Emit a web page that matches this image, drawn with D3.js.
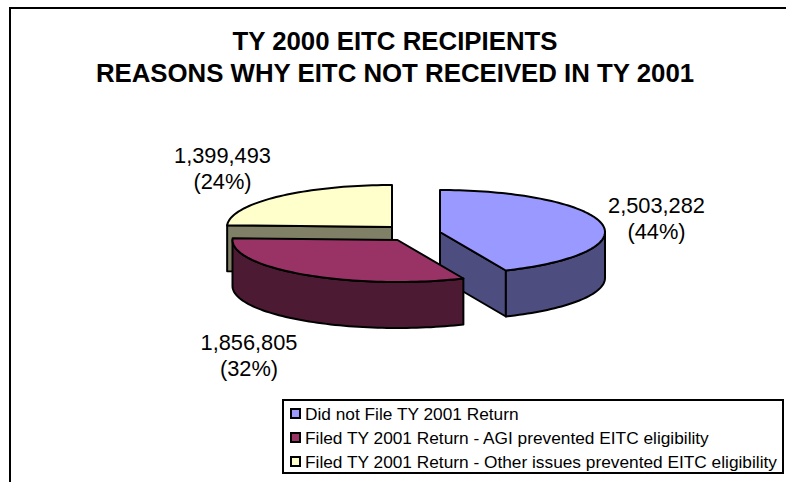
<!DOCTYPE html>
<html>
<head>
<meta charset="utf-8">
<script src="https://cdn.jsdelivr.net/npm/d3@7"></script>
<style>
  html, body { margin: 0; padding: 0; background: #fff; }
  svg { display: block; }
  text { font-family: "Liberation Sans", Arial, sans-serif; fill: #000; }
</style>
</head>
<body>
<svg id="chart" width="786" height="482"></svg>
<script>
const categories = [
  "Did not File TY 2001 Return",
  "Filed TY 2001 Return - AGI prevented EITC eligibility",
  "Filed TY 2001 Return - Other issues prevented EITC eligibility"
];
const values = [2503282, 1856805, 1399493];
const valueLabels = ["2,503,282", "1,856,805", "1,399,493"];
const pctLabels = ["(44%)", "(32%)", "(24%)"];
const titleLines = ["TY 2000 EITC RECIPIENTS", "REASONS WHY EITC NOT RECEIVED IN TY 2001"];
const topColors = ["#9999ff", "#993366", "#ffffcc"];
const sideColors = ["#4d4d80", "#4d1a33", "#808066"];

// exploded slice centres
const centers = [[440, 232], [397.5, 240], [392, 227]];
const labelPos = [[656.5, 213], [249, 350], [222.5, 163]];
const rx = 165, ry = 42, depth = 46;

const svg = d3.select("#chart");

// frame, the right side runs off the page
svg.append("path")
  .attr("d", "M10,482V8H786")
  .attr("fill", "none")
  .attr("stroke", "#000")
  .attr("stroke-width", 2);

// title
svg.selectAll(".title")
  .data(titleLines)
  .enter().append("text")
  .attr("class", "title")
  .attr("x", 395)
  .attr("y", (d, i) => 50 + i * 32)
  .attr("text-anchor", "middle")
  .attr("font-size", 25.8)
  .attr("font-weight", "bold")
  .text(d => d);

const slices = d3.pie().sort(null)(values);

function rim(s, a, dy) {
  const c = centers[s];
  return [c[0] + rx * Math.sin(a), c[1] - ry * Math.cos(a) + (dy || 0)];
}

const line = d3.line();

function rimPoints(s, a0, a1, dy) {
  const n = Math.max(2, Math.ceil(Math.abs(a1 - a0) / 0.03));
  return d3.range(n + 1).map(k => rim(s, a0 + (a1 - a0) * k / n, dy));
}

function drawFace(pts, color) {
  svg.append("path")
    .attr("d", line(pts) + "Z")
    .attr("fill", color)
    .attr("stroke", "#000")
    .attr("stroke-width", 2)
    .attr("stroke-linejoin", "round");
}

function down(p) { return [p[0], p[1] + depth]; }

// back slice first, then blue, then the front maroon slice
[2, 0, 1].forEach(i => {
  const s = slices[i], c = centers[i];
  const start = s.startAngle, end = s.endAngle;

  // cut face on the end edge of the yellow slice
  if (i === 2) {
    const p = rim(i, start);
    drawFace([p, c, down(c), down(p)], sideColors[i]);
  }
  // cut face on the end edge of the blue slice
  if (i === 0) {
    const p = rim(i, end);
    drawFace([c, p, down(p), down(c)], sideColors[i]);
  }
  // outer wall, only the front half of the ellipse
  const w0 = Math.max(start, Math.PI / 2), w1 = Math.min(end, Math.PI * 1.5);
  if (w1 > w0) {
    const upper = rimPoints(i, w0, w1);
    const lower = rimPoints(i, w1, w0, depth);
    drawFace(upper.concat(lower), sideColors[i]);
  }
  // top
  drawFace([c].concat(rimPoints(i, start, end)), topColors[i]);
});

// data labels
const labels = svg.selectAll(".label")
  .data(values)
  .enter().append("text")
  .attr("class", "label")
  .attr("text-anchor", "middle")
  .attr("font-size", 21.8);
labels.append("tspan")
  .attr("x", (d, i) => labelPos[i][0])
  .attr("y", (d, i) => labelPos[i][1])
  .text((d, i) => valueLabels[i]);
labels.append("tspan")
  .attr("x", (d, i) => labelPos[i][0])
  .attr("y", (d, i) => labelPos[i][1] + 25.5)
  .text((d, i) => pctLabels[i]);

// legend
svg.append("rect")
  .attr("x", 283).attr("y", 400)
  .attr("width", 500).attr("height", 73)
  .attr("fill", "#fff")
  .attr("stroke", "#000")
  .attr("stroke-width", 2);

const rows = d3.scaleBand().domain(d3.range(categories.length)).range([402, 474]);

const legend = svg.selectAll(".legend")
  .data(categories)
  .enter().append("g")
  .attr("class", "legend")
  .attr("transform", (d, i) => `translate(0,${rows(i)})`);
legend.append("rect")
  .attr("x", 291).attr("y", 7)
  .attr("width", 9).attr("height", 9)
  .attr("fill", (d, i) => topColors[i])
  .attr("stroke", "#000")
  .attr("stroke-width", 2);
legend.append("text")
  .attr("x", 305).attr("y", 18)
  .attr("font-size", 17.3)
  .text(d => d);
</script>
</body>
</html>
